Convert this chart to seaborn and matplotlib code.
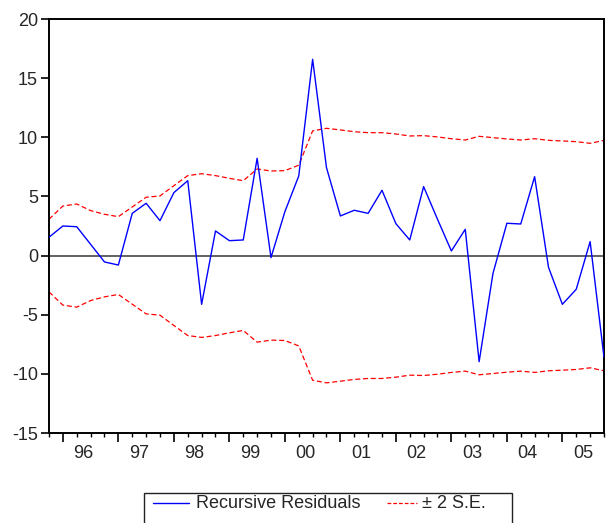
import numpy as np
import pandas as pd
import matplotlib
matplotlib.use("Agg")
import matplotlib.pyplot as plt
from matplotlib.lines import Line2D
from matplotlib.patches import Rectangle
from matplotlib.ticker import FixedLocator, NullFormatter
import seaborn as sns

# Quarterly observations 1995Q4 .. 2005Q4
start_year, start_quarter = 1995, 4
n_obs = 41

residuals = [1.55, 2.50, 2.44, 0.95, -0.54, -0.80, 3.57, 4.42, 2.95, 5.32,
             6.33, -4.12, 2.08, 1.26, 1.32, 8.22, -0.17, 3.71, 6.73, 16.59,
             7.43, 3.35, 3.83, 3.57, 5.52, 2.70, 1.32, 5.83, 3.07, 0.39,
             2.22, -8.97, -1.50, 2.73, 2.67, 6.67, -0.99, -4.12, -2.85, 1.18,
             -8.60]

two_se = [3.07, 4.19, 4.36, 3.80, 3.49, 3.29, 4.11, 4.93, 5.04, 5.91,
          6.76, 6.92, 6.76, 6.53, 6.33, 7.32, 7.15, 7.18, 7.64, 10.54,
          10.76, 10.62, 10.47, 10.39, 10.39, 10.28, 10.11, 10.14, 10.03, 9.88,
          9.77, 10.08, 9.97, 9.86, 9.77, 9.88, 9.74, 9.69, 9.63, 9.49,
          9.74]

year_labels = ["96", "97", "98", "99", "00", "01", "02", "03", "04", "05"]
y_ticks = [-15, -10, -5, 0, 5, 10, 15, 20]
legend_labels = ["Recursive Residuals", "\u00b1 2 S.E."]

# time axis in fractional years (Q1 of a year sits at the integer year)
t = start_year + (start_quarter - 1) / 4 + np.arange(n_obs) / 4

df = pd.DataFrame({
    "t": np.concatenate([t, t, t]),
    "value": np.concatenate([residuals, two_se, -np.asarray(two_se)]),
    "series": (["resid"] * n_obs + ["upper"] * n_obs + ["lower"] * n_obs),
})

sns.set_style("white")
plt.rcParams["font.family"] = ["Liberation Sans", "DejaVu Sans"]

W, H = 607, 523
fig = plt.figure(figsize=(W / 100, H / 100), dpi=100)
ax = fig.add_axes([49 / W, 90 / H, 555 / W, 414 / H])

ax.axhline(0, color="#555555", lw=1.3, zorder=1)

sns.lineplot(data=df[df.series == "resid"], x="t", y="value",
             color="#0000ff", lw=1.0, ax=ax, legend=False, zorder=3)
for band in ["upper", "lower"]:
    sns.lineplot(data=df[df.series == band], x="t", y="value",
                 color="#ff0000", lw=0.9, ax=ax, legend=False, zorder=2,
                 dashes=False, linestyle=(0, (4, 2.2)))

ax.set_xlim(t[0], t[-1])
ax.set_ylim(-15, 20)
ax.set_xlabel("")
ax.set_ylabel("")

# year ticks (long) at Q1, quarter ticks (short)
years = np.arange(1996, 2006)
ax.xaxis.set_major_locator(FixedLocator(years))
ax.xaxis.set_minor_locator(FixedLocator(t))
ax.xaxis.set_major_formatter(NullFormatter())
ax.tick_params(axis="x", which="major", length=6.5, width=1.2, direction="out",
               bottom=True, color="black")
ax.tick_params(axis="x", which="minor", length=3, width=1.0, direction="out",
               bottom=True, color="black")
for yr, lab in zip(years, year_labels):
    ax.text(yr + 0.375, -0.03, lab, transform=ax.get_xaxis_transform(),
            ha="center", va="top", fontsize=13)

ax.set_yticks(y_ticks)
ax.set_yticklabels([str(v) for v in y_ticks])
ax.tick_params(axis="y", length=6, width=1.2, direction="out", left=True,
               labelsize=13, pad=2, color="black")

for side in ["left", "bottom", "top", "right"]:
    ax.spines[side].set_visible(True)
    ax.spines[side].set_color("black")
    ax.spines[side].set_linewidth(1.4)

# legend box, running off the lower edge of the figure
def fx(px):
    return px / W

def fy(py):
    return 1 - py / H

fig.add_artist(Rectangle((fx(144), fy(535)), fx(512) - fx(144), fy(493) - fy(535),
                         transform=fig.transFigure, fill=False,
                         edgecolor="#222222", lw=1.0))
line_y = fy(502.5)
base_y = fy(508)
fig.add_artist(Line2D([fx(153), fx(189)], [line_y, line_y], transform=fig.transFigure,
                      color="#0000ff", lw=1.0))
fig.text(fx(196), base_y, legend_labels[0], ha="left", va="baseline", fontsize=13)
fig.add_artist(Line2D([fx(387), fx(417)], [line_y, line_y], transform=fig.transFigure,
                      color="#ff0000", lw=0.9, linestyle=(0, (3, 1.6))))
fig.text(fx(422), base_y, legend_labels[1], ha="left", va="baseline", fontsize=13)

fig.savefig("out.png", dpi=100)
